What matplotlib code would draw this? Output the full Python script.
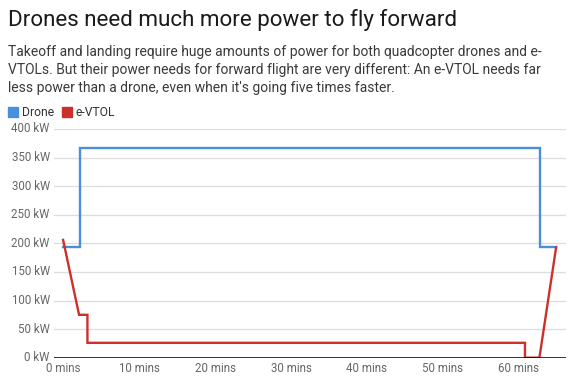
import numpy as np
import matplotlib.pyplot as plt
from matplotlib.patches import Rectangle

plt.rcParams['font.family'] = ['Roboto', 'DejaVu Sans']

# Data (minutes, kW)
drone_t = [0, 2.2, 2.2, 62.8, 62.8, 64.9]
drone_kw = [193, 193, 366, 366, 193, 193]
evtol_t = [0, 2.1, 3.2, 3.2, 60.8, 60.8, 62.7, 64.9]
evtol_kw = [206, 75, 75, 26, 26, 0, 0, 193]

y_ticks = [0, 50, 100, 150, 200, 250, 300, 350, 400]
x_ticks = [0, 10, 20, 30, 40, 50, 60]

blue = '#4a8fdd'
red = '#cc302b'

W, H = 573, 392
fig = plt.figure(figsize=(W / 100, H / 100), dpi=100)

# axes placed in pixel terms
left, right, top, bottom = 54, 566, 129, 357.7
ax = fig.add_axes([left / W, 1 - bottom / H, (right - left) / W, (bottom - top) / H])

ax.plot(drone_t, drone_kw, color=blue, lw=1.7, solid_joinstyle='miter')
ax.plot(evtol_t, evtol_kw, color=red, lw=1.7, solid_joinstyle='miter')

ax.set_ylim(0, 400)
ax.set_xlim(-1.2, 66.2)
ax.set_yticks(y_ticks)
ax.set_yticklabels([f'{v} kW' for v in y_ticks])
ax.set_xticks(x_ticks)
ax.set_xticklabels([f'{v} mins' for v in x_ticks])
ax.tick_params(length=0, labelsize=8.3, labelcolor='#666666', pad=3)
for lbl in ax.get_yticklabels():
    lbl.set_verticalalignment('center')

for v in y_ticks[1:]:
    ax.axhline(v, color='#dddddd', lw=0.9, zorder=0)
ax.axhline(0, color='black', lw=1.1, zorder=3)

for s in ax.spines.values():
    s.set_visible(False)
ax.set_facecolor('none')

# header texts
fig.text(8 / W, 1 - 20 / H, 'Drones need much more power to fly forward',
         fontsize=16.1, color='#1a1a1a', va='center', ha='left')
sub = ["Takeoff and landing require huge amounts of power for both quadcopter drones and e-",
       "VTOLs. But their power needs for forward flight are very different: An e-VTOL needs far",
       "less power than a drone, even when it's going five times faster."]
for i, line in enumerate(sub):
    fig.text(8 / W, 1 - (52 + 18 * i) / H, line, fontsize=10, color='#3a3a3a',
             va='center', ha='left')

# legend
for x0, col, name in [(8, blue, 'Drone'), (62, red, 'e-VTOL')]:
    fig.patches.append(Rectangle((x0 / W, 1 - 117 / H), 10 / W, 10 / H,
                                 transform=fig.transFigure, color=col))
    fig.text((x0 + 14) / W, 1 - 112 / H, name, fontsize=8.7, color='#333333',
             va='center', ha='left')

fig.savefig('out.png', dpi=100)
